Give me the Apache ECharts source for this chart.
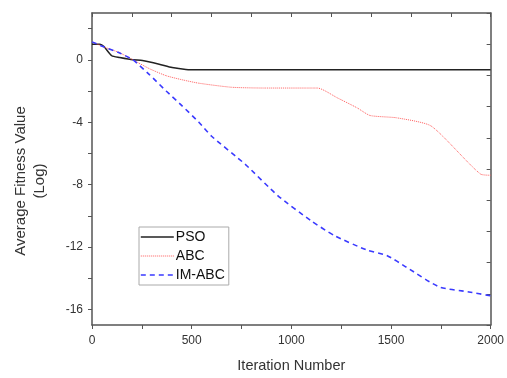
<!DOCTYPE html>
<html>
<head>
<meta charset="utf-8">
<script src="https://cdn.jsdelivr.net/npm/echarts@6/dist/echarts.min.js"></script>
<style>html,body{margin:0;padding:0;background:#fff}#c{width:507px;height:378px}</style>
</head>
<body>
<div id="c"></div>
<script>
var seriesNames = ['PSO', 'ABC', 'IM-ABC'];
var seriesColors = ['#222222', '#ff5a5a', '#3a3aff'];
var psoIter = [0, 40, 60, 99, 139, 205, 253, 337, 402, 471, 536, 800, 1200, 1600, 2000];
var psoVal  = [1.0, 1.0, 0.85, 0.26, 0.15, 0.0, -0.04, -0.28, -0.5, -0.62, -0.64, -0.64, -0.64, -0.64, -0.64];
var abcIter = [0, 55, 139, 205, 288, 372, 452, 536, 700, 868, 1131, 1231, 1330, 1395, 1529, 1702, 1950, 2000];
var abcVal  = [1.15, 0.85, 0.45, 0.0, -0.57, -1.02, -1.28, -1.5, -1.76, -1.81, -1.81, -2.44, -3.08, -3.57, -3.72, -4.25, -7.33, -7.4];
var imIter = [0, 55, 139, 205, 288, 372, 452, 536, 600, 769, 933, 1097, 1216, 1380, 1479, 1578, 1742, 1891, 2000];
var imVal  = [1.15, 0.85, 0.43, 0.0, -0.95, -2.0, -2.95, -4.0, -4.9, -6.7, -8.72, -10.3, -11.27, -12.2, -12.54, -13.3, -14.56, -14.88, -15.13];

function zip(a, b) { return a.map(function (v, i) { return [v, b[i]]; }); }

var axisCol = '#555';
var textCol = '#333';
var font = 'Liberation Sans, Arial, sans-serif';
var lineTypes = ['solid', [1, 1], [5, 4]];
var lineWidths = [1.5, 1.2, 1.6];
var chart = echarts.init(document.getElementById('c'));
chart.setOption({
  animation: false,
  backgroundColor: '#fff',
  grid: { left: 92, right: 12, top: 13, bottom: 51, containLabel: false },
  legend: {
    orient: 'vertical', left: 139, top: 227,
    data: seriesNames.map(function (n, i) {
      return { name: n,
        itemStyle: { color: 'rgba(0,0,0,0)', borderWidth: 0 },
        lineStyle: { color: seriesColors[i], width: lineWidths[i], type: lineTypes[i] } };
    }),
    itemWidth: 33, itemHeight: 13, itemGap: 5,
    padding: [3, 4, 3, 1],
    borderColor: '#aaa', borderWidth: 1,
    textStyle: { fontFamily: font, fontSize: 14, color: '#111', padding: [0, 0, 0, -3] }
  },
  xAxis: [{
    type: 'value', position: 'bottom', min: 0, max: 2000, interval: 250,
    axisLine: { show: true, onZero: false, lineStyle: { color: axisCol, width: 1.5 } },
    axisTick: { show: true, inside: false, length: 4, lineStyle: { color: axisCol } },
    axisLabel: { margin: 10, fontFamily: font, fontSize: 12, color: textCol,
      formatter: function (v) { return v % 500 === 0 ? String(v) : ''; } },
    splitLine: { show: false },
    name: 'Iteration Number', nameLocation: 'middle', nameGap: 33,
    nameTextStyle: { fontFamily: font, fontSize: 14.5, color: textCol }
  }, {
    type: 'value', position: 'top', min: 0, max: 2000, interval: 200,
    axisLine: { show: true, onZero: false, lineStyle: { color: axisCol, width: 1.5 } },
    axisTick: { show: true, inside: true, length: 4, lineStyle: { color: axisCol } },
    axisLabel: { show: false }, splitLine: { show: false }
  }],
  yAxis: [{
    type: 'value', position: 'left', min: -17, max: 3, splitNumber: 10,
    axisLine: { show: true, onZero: false, lineStyle: { color: axisCol, width: 1.5 } },
    axisTick: { show: true, inside: false, length: 4, lineStyle: { color: axisCol } },
    axisLabel: { margin: 9, fontFamily: font, fontSize: 12, color: textCol, showMinLabel: false, showMaxLabel: false,
      formatter: function (v) { return (v % 4 === 0) ? String(v) : ''; } },
    splitLine: { show: false },
    name: 'Average Fitness Value\n(Log)', nameLocation: 'middle', nameGap: 43, nameRotate: 90,
    nameTextStyle: { fontFamily: font, fontSize: 15, color: textCol, lineHeight: 19, align: 'center', padding: [0, 24, 0, 0] }
  }, {
    type: 'value', position: 'right', min: -17, max: 3, interval: 2,
    axisLine: { show: true, onZero: false, lineStyle: { color: axisCol, width: 1.5 } },
    axisTick: { show: true, inside: true, length: 4, lineStyle: { color: axisCol } },
    axisLabel: { show: false }, splitLine: { show: false }
  }],
  series: seriesNames.map(function (n, i) {
    var its = [psoIter, abcIter, imIter][i];
    var vals = [psoVal, abcVal, imVal][i];
    return {
      name: n, type: 'line', xAxisIndex: 0, yAxisIndex: 0, symbol: 'none', smooth: 0.2,
      data: zip(its, vals),
      lineStyle: { color: seriesColors[i], width: i === 1 ? 1 : lineWidths[i], type: lineTypes[i] },
      itemStyle: { color: seriesColors[i] }
    };
  })
});
</script>
</body>
</html>
